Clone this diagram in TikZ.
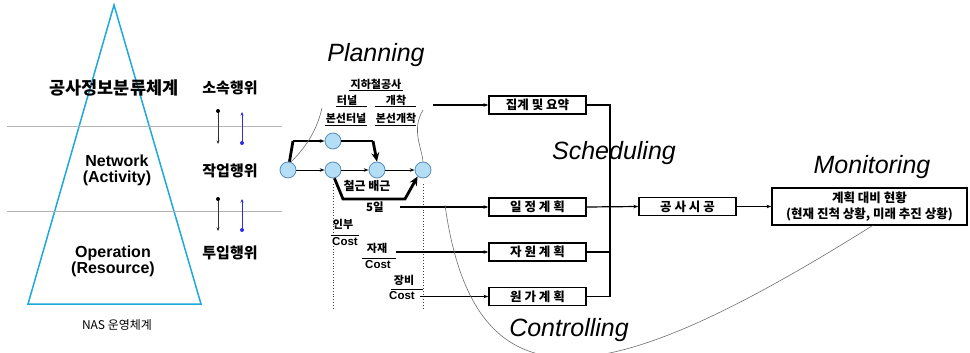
\documentclass[tikz,border=0pt]{standalone}
\usepackage{fontspec}
\setmainfont{Liberation Sans}
\newfontfamily\kr{Noto Sans CJK KR}
\usetikzlibrary{arrows.meta}

\definecolor{tri}{HTML}{1FA8DC}
\definecolor{evfill}{HTML}{B4DEF6}
\definecolor{evline}{HTML}{5A8CB8}
\definecolor{guide}{HTML}{B4B4B4}
\definecolor{upblue}{HTML}{2E2EE6}
\definecolor{trace}{HTML}{6E6E6E}

\newcommand\sz[1]{\fontsize{#1}{#1}\selectfont}

\tikzset{
  phase/.style={font=\sz{25}\itshape, inner sep=0},
  layer/.style={font=\fontsize{16}{16}\selectfont\bfseries, align=center, inner sep=0},
  heading/.style={font=\kr\bfseries\sz{17.5}, inner sep=0},
  act/.style={font=\kr\bfseries\sz{15}, inner sep=0},
  caption/.style={font=\kr\sz{12}, inner sep=0},
  tag/.style={font=\kr\bfseries\sz{11}, inner sep=0},
  costlbl/.style={font=\bfseries\sz{11.5}, inner sep=0},
  event/.style={circle, draw=evline, fill=evfill, line width=0.8pt, minimum size=16pt, inner sep=0},
  planbox/.style={draw, line width=1.2pt, minimum width=97pt, minimum height=18pt, inner sep=0, font=\kr\bfseries\sz{12.5}},
  rule/.style={line width=1pt},
  flow/.style={line width=1.2pt, -{Stealth[length=5pt,width=3.5pt]}},
  bus/.style={line width=1.2pt},
  link/.style={line width=0.9pt, -{Stealth[length=5pt,width=3.5pt]}},
  heavy/.style={line width=2.8pt},
  heavyarrow/.style={line width=2.8pt, -{Stealth[length=9pt,width=8pt]}},
  trace/.style={draw=trace, line width=0.6pt},
  downlink/.style={draw=black!80, line width=0.7pt, -{Stealth[length=3.5pt,width=3pt]}},
  uplink/.style={draw=upblue, line width=0.7pt, -{Stealth[length=3.5pt,width=3pt]}},
}

\begin{document}
\begin{tikzpicture}[x=1pt,y=-1pt]
\useasboundingbox (0,0) rectangle (970,353);

% ---------- NAS pyramid ----------
\draw[tri, line width=1.5pt] (114,5) -- (201,304) -- (28,304) -- cycle;
\draw[guide, line width=0.6pt] (7,126) -- (282,126);
\draw[guide, line width=0.6pt] (7,211) -- (282,211);

\node[heading] (cls) at (114,88) {공사정보분류체계};
\node[layer] (net) at (117,170) {Network\\(Activity)};
\node[layer] (opr) at (113,261) {Operation\\(Resource)};
\node[caption] (nas) at (117,325) {NAS 운영체계};

\node[act] (own)   at (230,88)  {소속행위};
\node[act] (work)  at (230,171) {작업행위};
\node[act] (input) at (230,253) {투입행위};

% relation arrows between the levels
\coordinate (d1s) at (218,111); \coordinate (d1e) at (218,144);
\coordinate (u1s) at (242,143); \coordinate (u1e) at (242,112);
\coordinate (d2s) at (218,199); \coordinate (d2e) at (218,231);
\coordinate (u2s) at (242,230); \coordinate (u2e) at (242,199);
\draw[downlink] (d1s) -- (d1e);
\draw[uplink] (u1s) -- (u1e);
\draw[downlink] (d2s) -- (d2e);
\draw[uplink] (u2s) -- (u2e);
\fill[black] (d1s) circle[radius=2pt];
\fill[black] (d2s) circle[radius=2pt];
\fill[upblue] (u1s) circle[radius=2pt];
\fill[upblue] (u2s) circle[radius=2pt];

% ---------- phase titles ----------
\node[phase] (plan)  at (376,55)  {Planning};
\node[phase] (sch)   at (614,153) {Scheduling};
\node[phase] (monit) at (872,167) {Monitoring};
\node[phase] (ctrl)  at (569,330) {Controlling};

% ---------- work breakdown labels ----------
\node[tag] (subway) at (376,84)  {지하철공사};
\node[tag] (tunnel) at (347,100) {터널};
\node[tag] (cut)    at (396,100) {개착};
\node[tag] (mtun)   at (346,118) {본선터널};
\node[tag] (mcut)   at (396,118) {본선개착};
\draw[rule] (349,90.5) -- (403,90.5);
\draw[rule] (336,106.5) -- (367,106.5);
\draw[rule] (375,106.5) -- (416,106.5);
\draw[rule] (325,125) -- (367,125);
\draw[rule] (375,125) -- (416,125);

% ---------- activity network ----------
\node[event] (A) at (288,170) {};
\node[event] (B) at (333,141) {};
\node[event] (C) at (333,170) {};
\node[event] (D) at (377,170) {};
\node[event] (E) at (423,170) {};

\draw[link] (A) -- (C);
\draw[link] (C) -- (D);
\draw[link] (D) -- (E);

\coordinate (ab) at (293,141);
\draw[heavy] (A.80) -- (ab);
\draw[link, line width=1.4pt] (ab) -- (B);

\coordinate (bd) at (373,141);
\draw[line width=1.4pt] (B) -- (bd);
\draw[heavyarrow] (bd) -- (D.north);

\coordinate (ce1) at (343,199);
\coordinate (ce2) at (405,199);
\draw[heavyarrow, line join=miter] (C.-80) -- (ce1) -- (ce2) -- (E.-130);

\node[tag, font=\kr\bfseries\sz{12}] (rebar) at (367,186) {철근 배근};
\node[tag, font=\kr\bfseries\sz{11.5}] (days) at (375,207) {5일};

% section guides below the network
\draw[dotted, line width=0.8pt, black!75] (C.south) ++(0,6) -- (333,308);
\draw[dotted, line width=0.8pt, black!75] (E.south) ++(0,6) -- (423,308);

% cost fractions
\node[tag] (labor) at (343,224) {인부};
\draw[rule] (331,235) -- (359,235);
\node[costlbl] (cost1) at (345,242) {Cost};
\node[tag] (mat) at (377,248) {자재};
\draw[rule] (362,258) -- (396,258);
\node[costlbl] (cost2) at (378,265) {Cost};
\node[tag] (equip) at (404,280) {장비};
\draw[rule] (391,289) -- (423,289);
\node[costlbl] (cost3) at (402,296) {Cost};

% brackets tying the breakdown to the network
\coordinate (t1) at (322,108);
\coordinate (t2) at (423,110);
\draw[trace] (t1) .. controls (316,135) and (301,152) .. (A.70);
\draw[trace] (t2) .. controls (411,130) and (422,148) .. (E.north);

% ---------- planning outputs ----------
\node[planbox] (summ)  at (537.5,105) {집계 및 요약};
\node[planbox] (sched) at (537.5,207) {일 정 계 획};
\node[planbox] (res)   at (537.5,252) {자 원 계 획};
\node[planbox] (costp) at (537.5,296.5) {원 가 계 획};

\coordinate (s0) at (433,105);
\coordinate (s1) at (400,207);
\coordinate (s2) at (396,252);
\coordinate (s3) at (420,296.5);
\draw[flow] (s0) -- (summ.west);
\draw[flow] (s1) -- (sched.west);
\draw[flow] (s2) -- (res.west);
\draw[flow] (s3) -- (costp.west);

\coordinate (busx) at (610,0);
\draw[bus] (summ.east) -- (summ.east -| busx) |- (costp.east);
\draw[bus] (res.east) -- (res.east -| busx);

\node[planbox] (build) at (687.5,206.5) {공 사 시 공};
\node[planbox, minimum width=195pt, minimum height=37pt, align=center, font=\kr\bfseries\fontsize{12.5}{15.5}\selectfont] (mon) at (869.5,206.5)
  {계획 대비 현황\\(현재 진척 상황, 미래 추진 상황)};

\draw[flow] (sched.east) -- (build.west);
\draw[flow] (build.east) -- (mon.west);

% control loop back from monitoring to the schedule
\coordinate (ctl) at (445,205);
\draw[trace] (ctl) .. controls (475,420) and (610,390) .. ([xshift=3pt]mon.south);

\end{tikzpicture}
\end{document}
